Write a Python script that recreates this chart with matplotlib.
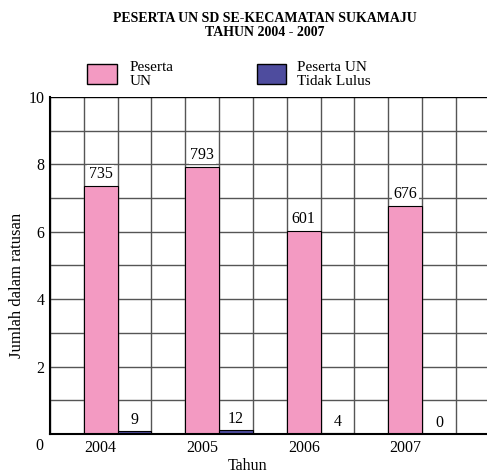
import numpy as np
import matplotlib
matplotlib.use("Agg")
import matplotlib.pyplot as plt
from matplotlib.patches import Rectangle

plt.rcParams["font.family"] = ["Liberation Serif", "DejaVu Serif"]

tahun = ["2004", "2005", "2006", "2007"]
peserta_un = [735, 793, 601, 676]
tidak_lulus = [9, 12, 4, 0]
yticks = [2, 4, 6, 8, 10]

pink = "#F39AC2"
ungu = "#4E4C9E"
grid_col = "#555555"
fs = 11.5

fig = plt.figure(figsize=(4.87, 4.73), dpi=100)
ax = fig.add_axes([50 / 487, 39 / 473, 437 / 487, 337 / 473])

# two columns per year, one empty column in between
pos = np.arange(len(tahun)) * 3 + 1.5
h1 = np.array(peserta_un) / 100
h2 = np.array(tidak_lulus) / 100

ax.bar(pos, h1, width=1, color=pink, edgecolor="black", linewidth=0.8, zorder=3)
ax.bar(pos + 1, h2, width=1, color=ungu, edgecolor="black", linewidth=0.8, zorder=3)

for x, h, v in zip(pos, h1, peserta_un):
    ax.text(x, h + 0.12, str(v), ha="center", va="bottom", fontsize=fs, zorder=5,
            bbox=dict(boxstyle="square,pad=0.1", fc="white", ec="none"))
for x, h, v in zip(pos + 1, h2, tidak_lulus):
    ax.text(x, h + 0.08, str(v), ha="center", va="bottom", fontsize=fs, zorder=5)

# grid
for i in range(13):
    ax.axvline(i, color=grid_col, linewidth=1, zorder=1)
for j in range(1, 11):
    ax.axhline(j, color=grid_col if j < 10 else "black", linewidth=1, zorder=1)

ax.set_xlim(0, 437 / 33.83)
ax.set_ylim(0, 10)
ax.set_xticks(pos)
ax.set_xticklabels(tahun, fontsize=fs)
ax.set_yticks(yticks)
ax.set_yticklabels([str(t) for t in yticks], fontsize=fs)
ax.tick_params(length=0, pad=4)
fig.text(39 / 487, 1 - 446 / 473, "0", ha="center", va="center", fontsize=fs)

for s in ["top", "right"]:
    ax.spines[s].set_visible(False)
for s in ["left", "bottom"]:
    ax.spines[s].set_linewidth(1.5)
    ax.spines[s].set_zorder(4)

fig.text(248 / 487, 1 - 466 / 473, "Tahun", ha="center", va="center", fontsize=fs)
fig.text(17 / 487, 1 - 285 / 473, "Jumlah dalam ratusan", ha="center", va="center",
         rotation=90, fontsize=12)

fig.text(265 / 487, 1 - 18 / 473, "PESERTA UN SD SE-KECAMATAN SUKAMAJU",
         ha="center", va="center", fontsize=10, fontweight="bold")
fig.text(265 / 487, 1 - 33 / 473, "TAHUN 2004 - 2007",
         ha="center", va="center", fontsize=10, fontweight="bold")

# legend
fig.add_artist(Rectangle((87 / 487, 1 - 84 / 473), 30 / 487, 20 / 473,
                         transform=fig.transFigure, fc=pink, ec="black", lw=1))
fig.add_artist(Rectangle((257 / 487, 1 - 84 / 473), 29 / 487, 20 / 473,
                         transform=fig.transFigure, fc=ungu, ec="black", lw=1))
for x, lines in [(130, ["Peserta", "UN"]), (297, ["Peserta UN", "Tidak Lulus"])]:
    for k, t in enumerate(lines):
        fig.text(x / 487, 1 - (71 + 14 * k) / 473, t, ha="left", va="baseline",
                 fontsize=11)

fig.savefig("out.png", dpi=100)
